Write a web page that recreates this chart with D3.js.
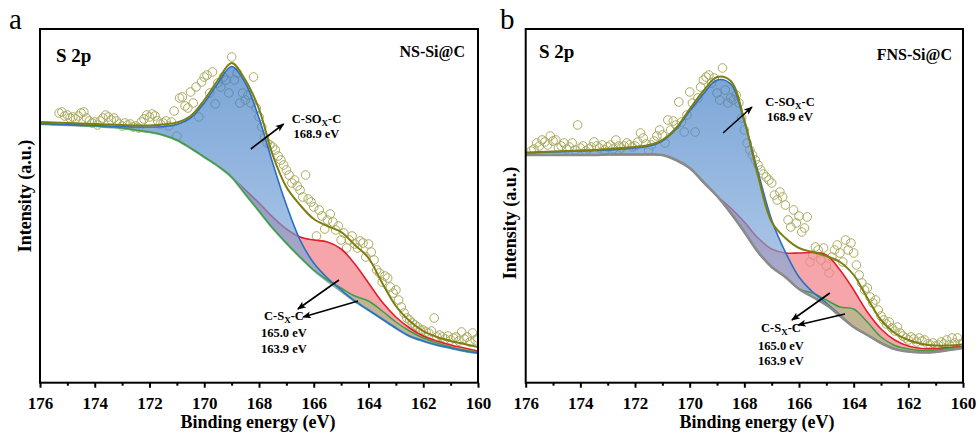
<!DOCTYPE html>
<html>
<head>
<meta charset="utf-8">
<script src="https://cdn.jsdelivr.net/npm/d3@7"></script>
<style>
  html, body { margin: 0; padding: 0; background: #fff; }
</style>
</head>
<body>
<svg id="chart" width="980" height="437"></svg>
<script>
// ---- shared axis values ----
const fitEnergy = [176,175.5,175,174.5,174,173.5,173,172.5,172,171.5,171,170.5,170,169.5,169,168.5,168,
                   167.5,167,166.5,166,165.5,165,164.5,164,163.5,163,162.5,162,161.5,161,160.5,160];
const majorTicks = [176,174,172,170,168,166,164,162,160];
const minorTicks = [175,173,171,169,167,165,163,161];
const scanStep = 0.1;

// ---- panel a: NS-Si@C (intensity in a.u.) ----
const aBackground = [259,258.5,258,257.5,257,256,255,253,251,248,243,235,226,217,206,189,172,155,140,126,113,102,92,82,73,64,55,47,42,38,35,32,30];
const aPeakSOx    = [0.5,0.5,0.5,0.5,0.5,1,1.5,3,5,8.5,15.5,30,54,83,110.5,111,93,65,38,17,7,3,1,0,0,0,0,0,0,0,0,0,0];
const aPeakSx165  = [0,0,0,0,0,0,0,0,0,0,0,0,0,0,0,4,8,11,14,20,30,39,42,37,27,17,11,8,5,4,3,3,2];
const aPeakSx164  = [0,0,0,0,0,0,0,0,0,0,0,0,0,0,0,0,0,0,0,0,0,1,3,5,9,8,6,5,3,2,1,1,1];
const aEnvelope   = [261,260.5,260,259.5,259,258.5,258,257.5,257.5,258.5,260.5,267,283,303,320,303,274,228,196,178,164,157,151,138,125,100,77,62,52,46,42,39,36];
const aScanStart = 175.3;
const aCounts = [
  270,271,267,268,265,266,264,267,270,271,265,262,260,261,258,262,265,268,266,263,
  265,262,259,257,260,258,259,256,257,255,261,264,268,266,269,267,262,259,260,262,
  257,261,272,247,285,286,277,275,291,280,296,266,301,306,308,290,311,279,300,296,
  306,303,290,326,303,310,280,290,283,288,280,306,275,266,256,246,240,238,236,233,
  227,223,218,213,208,200,203,197,193,186,208,184,181,176,147,173,167,154,163,169,
  161,153,157,143,150,135,143,147,139,135,142,140,126,139,131,123,113,110,101,107,
  105,96,90,93,83,76,70,65,63,60,58,56,53,53,51,50,52,65,46,48,
  46,44,47,43,45,46,42,51,44,46,41,50,43,45
];

// ---- panel b: FNS-Si@C (intensity in a.u.) ----
const bBackground = [228,228,228,228,228,228,228.5,228.5,228.5,228.5,228,223,215,201,187,170,151,131,116,106,94,86,78,67,56,48,40,34,31.5,30.5,31,33,35];
const bPeakSOx    = [2,2.5,3,3.5,4,4.5,4.5,5.5,6.5,8.5,14,31,57,88,116,129,110,80,47,25,12,5,2,1,0,0,0,0,0,0,0,0,0];
const bPeakSx165  = [0,0,0,0,0,0,0,0,0,0,0,0,0,0,0,5,10,14,18,24,36,44.5,50,46,37,23,14,9,5.5,4,3.5,2.5,1.5];
const bPeakSx164  = [0,0,0,0,0,0,0,0,0,0,0,0,0,0,0,0,0,0,0,0,0,4,5,9,18,13,6,3.5,2.5,2,2,1.5,1];
const bEnvelope   = [230.5,231,231.5,232,232.5,233,234,235,236,238,243,255,274,292,306,302,263,207,161,145,135,131,127,121,108,85,63,50,43,39,37.5,37.5,38.5];
const bScanStart = 175.8;
const bCounts = [
  232,234,240,237,243,241,238,247,242,243,235,237,240,234,236,240,233,258,235,237,
  232,234,236,241,237,235,238,233,236,238,234,243,237,235,237,240,238,236,237,241,
  250,245,239,233,238,242,247,253,248,240,263,253,262,258,281,261,251,268,291,280,
  251,285,296,303,306,308,300,305,290,283,315,293,280,285,283,288,280,265,253,240,
  233,228,223,218,213,209,206,203,200,188,183,191,186,178,163,156,173,160,167,151,
  155,166,121,128,136,133,123,135,117,110,126,133,138,130,121,143,133,140,130,118,
  108,100,93,95,86,80,83,73,67,63,59,61,55,52,56,50,47,45,43,46,
  44,41,45,42,43,39,38,40,37,38,41,39,43,38,45,40,45,39,40
];

// ---- panel settings ----
const panels = [
  {
    id: "a", letter: "a", sample: "NS-Si@C",
    x0: 40, x1: 478, y0: 29, y1: 382.7,
    letterPos: [9, 29], corePos: [56, 62], samplePos: [465, 57],
    background: aBackground, sox: aPeakSOx, sx165: aPeakSx165, sx164: aPeakSx164,
    envelope: aEnvelope, scanStart: aScanStart, counts: aCounts,
    bgColor: "#8fb3b3", order: ["bg", "green", "blue"],
    xTitleX: 258, yTitle: [31, 196],
    soxArrow: [[168.3, 234], [167.1, 259]], soxLabel: [165.9, 260],
    sxArrows: [[[165.08, 103], [166.58, 74]], [[164.38, 82], [166.39, 66]]],
    sxLabel: [167.09, 63], sxGaps: [17, 33]
  },
  {
    id: "b", letter: "b", sample: "FNS-Si@C",
    x0: 525.7, x1: 963, y0: 29, y1: 382.7,
    letterPos: [500, 29], corePos: [539, 58], samplePos: [952, 60],
    background: bBackground, sox: bPeakSOx, sx165: bPeakSx165, sx164: bPeakSx164,
    envelope: bEnvelope, scanStart: bScanStart, counts: bCounts,
    bgColor: "#8a8a8a", order: ["green", "blue", "bg"],
    xTitleX: 757, yTitle: [516, 223],
    soxArrow: [[168.78, 250], [167.72, 276]], soxLabel: [166.33, 277],
    sxArrows: [[[164.87, 90], [166.26, 63]], [[164.32, 69], [166.04, 58]]],
    sxLabel: [166.66, 51], sxGaps: [18, 33]
  }
];

const serif = "Liberation Serif, Tinos, Times New Roman, DejaVu Serif, Noto Serif, FreeSerif, serif";
const svg = d3.select("#chart");
svg.append("rect").attr("width", 980).attr("height", 437).attr("fill", "#fff");
const defs = svg.append("defs");

// arrow head used by all annotation arrows
defs.append("marker")
  .attr("id", "arrowHead")
  .attr("viewBox", "0 0 10 8")
  .attr("refX", 9).attr("refY", 4)
  .attr("markerWidth", 9).attr("markerHeight", 7)
  .attr("markerUnits", "userSpaceOnUse")
  .attr("orient", "auto")
  .append("path")
  .attr("d", "M0,0 L10,4 L0,8 L2.5,4 Z")
  .attr("fill", "#000");

function drawPanel(p) {
  const x = d3.scaleLinear().domain([176, 160]).range([p.x0, p.x1]);
  const y = d3.scaleLinear().domain([0, 354]).range([383, 29]);

  defs.append("clipPath").attr("id", "clip-" + p.id)
    .append("rect").attr("x", p.x0).attr("y", p.y0)
    .attr("width", p.x1 - p.x0).attr("height", p.y1 - p.y0);

  const grad = defs.append("linearGradient").attr("id", "soxFill-" + p.id)
    .attr("gradientUnits", "userSpaceOnUse")
    .attr("x1", 0).attr("y1", 60).attr("x2", 0).attr("y2", 320);
  grad.append("stop").attr("offset", 0).attr("stop-color", "#3374c2");
  grad.append("stop").attr("offset", 1).attr("stop-color", "#93b6e0");

  const rows = fitEnergy.map((e, i) => ({
    e, b: p.background[i], sox: p.sox[i], sx165: p.sx165[i], sx164: p.sx164[i], env: p.envelope[i]
  }));
  const raw = p.counts.map((v, i) => ({ e: +(p.scanStart - i * scanStep).toFixed(2), v }));

  const curve = d3.curveCatmullRom.alpha(0.5);
  const area = key => d3.area().x(d => x(d.e)).y0(d => y(d.b)).y1(d => y(d.b + d[key])).curve(curve);
  const line = key => d3.line().x(d => x(d.e)).y(d => y(d.b + (key ? d[key] : 0))).curve(curve);

  const plot = svg.append("g").attr("clip-path", `url(#clip-${p.id})`);

  // measured points
  plot.append("g").selectAll("circle").data(raw).join("circle")
    .attr("cx", d => x(d.e)).attr("cy", d => y(d.v)).attr("r", 4.3)
    .attr("fill", "none").attr("stroke", "#abab60").attr("stroke-width", 1);

  // C-Sx-C 165.0 eV component
  plot.append("path").attr("d", area("sx165")(rows)).attr("fill", "#f3838a").attr("fill-opacity", 0.72);
  plot.append("path").attr("d", line("sx165")(rows)).attr("fill", "none")
    .attr("stroke", "#e0202a").attr("stroke-width", 1.6);
  // C-Sx-C 163.9 eV component
  plot.append("path").attr("d", area("sx164")(rows)).attr("fill", "#8cc378").attr("fill-opacity", 0.5);
  // C-SOx-C 168.9 eV component
  plot.append("path").attr("d", area("sox")(rows)).attr("fill", `url(#soxFill-${p.id})`).attr("fill-opacity", 0.66);

  const drawLine = {
    bg: () => plot.append("path").attr("d", line(null)(rows)).attr("fill", "none")
      .attr("stroke", p.bgColor).attr("stroke-width", 2.6),
    green: () => plot.append("path").attr("d", line("sx164")(rows)).attr("fill", "none")
      .attr("stroke", "#3e9c48").attr("stroke-width", 1.5),
    blue: () => plot.append("path").attr("d", line("sox")(rows)).attr("fill", "none")
      .attr("stroke", "#2a6fc0").attr("stroke-width", 1.6)
  };
  p.order.forEach(k => drawLine[k]());

  // overall fit envelope
  plot.append("path")
    .attr("d", d3.line().x(d => x(d.e)).y(d => y(d.env)).curve(curve)(rows))
    .attr("fill", "none").attr("stroke", "#7e7e0e").attr("stroke-width", 2);

  // frame
  svg.append("rect").attr("x", p.x0).attr("y", p.y0)
    .attr("width", p.x1 - p.x0).attr("height", p.y1 - p.y0)
    .attr("fill", "none").attr("stroke", "#000").attr("stroke-width", 2);

  // bottom axis
  const axisG = svg.append("g").attr("transform", `translate(0,${p.y1})`);
  axisG.call(d3.axisBottom(x).tickValues(majorTicks).tickSize(5).tickPadding(9).tickFormat(d3.format("d")));
  const minorG = svg.append("g").attr("transform", `translate(0,${p.y1})`);
  minorG.call(d3.axisBottom(x).tickValues(minorTicks).tickSize(3).tickFormat(""));
  [axisG, minorG].forEach(a => {
    a.attr("font-family", null);
    a.select(".domain").remove();
    a.selectAll(".tick line").attr("stroke", "#000").attr("stroke-width", 2);
  });
  axisG.selectAll(".tick text")
    .attr("font-size", 17).attr("font-weight", "bold").attr("fill", "#000");

  // titles
  svg.append("text").attr("x", p.xTitleX).attr("y", 428)
    .attr("text-anchor", "middle").attr("font-size", 18).attr("font-weight", "bold")
    .text("Binding energy (eV)");
  svg.append("text").attr("transform", `translate(${p.yTitle[0]},${p.yTitle[1]}) rotate(-90)`)
    .attr("text-anchor", "middle").attr("font-size", 18).attr("font-weight", "bold")
    .text("Intensity (a.u.)");
  svg.append("text").attr("x", p.letterPos[0]).attr("y", p.letterPos[1])
    .attr("font-size", 29).text(p.letter);
  svg.append("text").attr("x", p.corePos[0]).attr("y", p.corePos[1])
    .attr("font-size", 19).attr("font-weight", "bold").text("S 2p");
  svg.append("text").attr("x", p.samplePos[0]).attr("y", p.samplePos[1])
    .attr("text-anchor", "end").attr("font-size", 16).attr("font-weight", "bold").text(p.sample);

  // annotations
  const arrow = (a) => svg.append("line")
    .attr("x1", x(a[0][0])).attr("y1", y(a[0][1]))
    .attr("x2", x(a[1][0])).attr("y2", y(a[1][1]))
    .attr("stroke", "#000").attr("stroke-width", 1.6)
    .attr("marker-end", "url(#arrowHead)");
  arrow(p.soxArrow);
  p.sxArrows.forEach(arrow);

  const subLabel = (lx, ly, pre, post) => {
    const t = svg.append("text").attr("x", lx).attr("y", ly)
      .attr("text-anchor", "middle").attr("font-size", 12.5).attr("font-weight", "bold");
    t.append("tspan").text(pre);
    t.append("tspan").attr("font-size", 9).attr("dy", 2.5).text("X");
    t.append("tspan").attr("dy", -2.5).text(post);
  };
  const sLx = x(p.soxLabel[0]), sLy = y(p.soxLabel[1]);
  subLabel(sLx, sLy, "C-SO", "-C");
  svg.append("text").attr("x", sLx).attr("y", sLy + 14.5).attr("text-anchor", "middle")
    .attr("font-size", 12.5).attr("font-weight", "bold").text("168.9 eV");

  const xLx = x(p.sxLabel[0]), xLy = y(p.sxLabel[1]);
  subLabel(xLx, xLy, "C-S", "-C");
  svg.append("text").attr("x", xLx).attr("y", xLy + p.sxGaps[0]).attr("text-anchor", "middle")
    .attr("font-size", 12.5).attr("font-weight", "bold").text("165.0 eV");
  svg.append("text").attr("x", xLx).attr("y", xLy + p.sxGaps[1]).attr("text-anchor", "middle")
    .attr("font-size", 12.5).attr("font-weight", "bold").text("163.9 eV");
}

panels.forEach(drawPanel);

// every label uses the Times-style serif face
svg.selectAll("text").attr("font-family", serif);
</script>
</body>
</html>
